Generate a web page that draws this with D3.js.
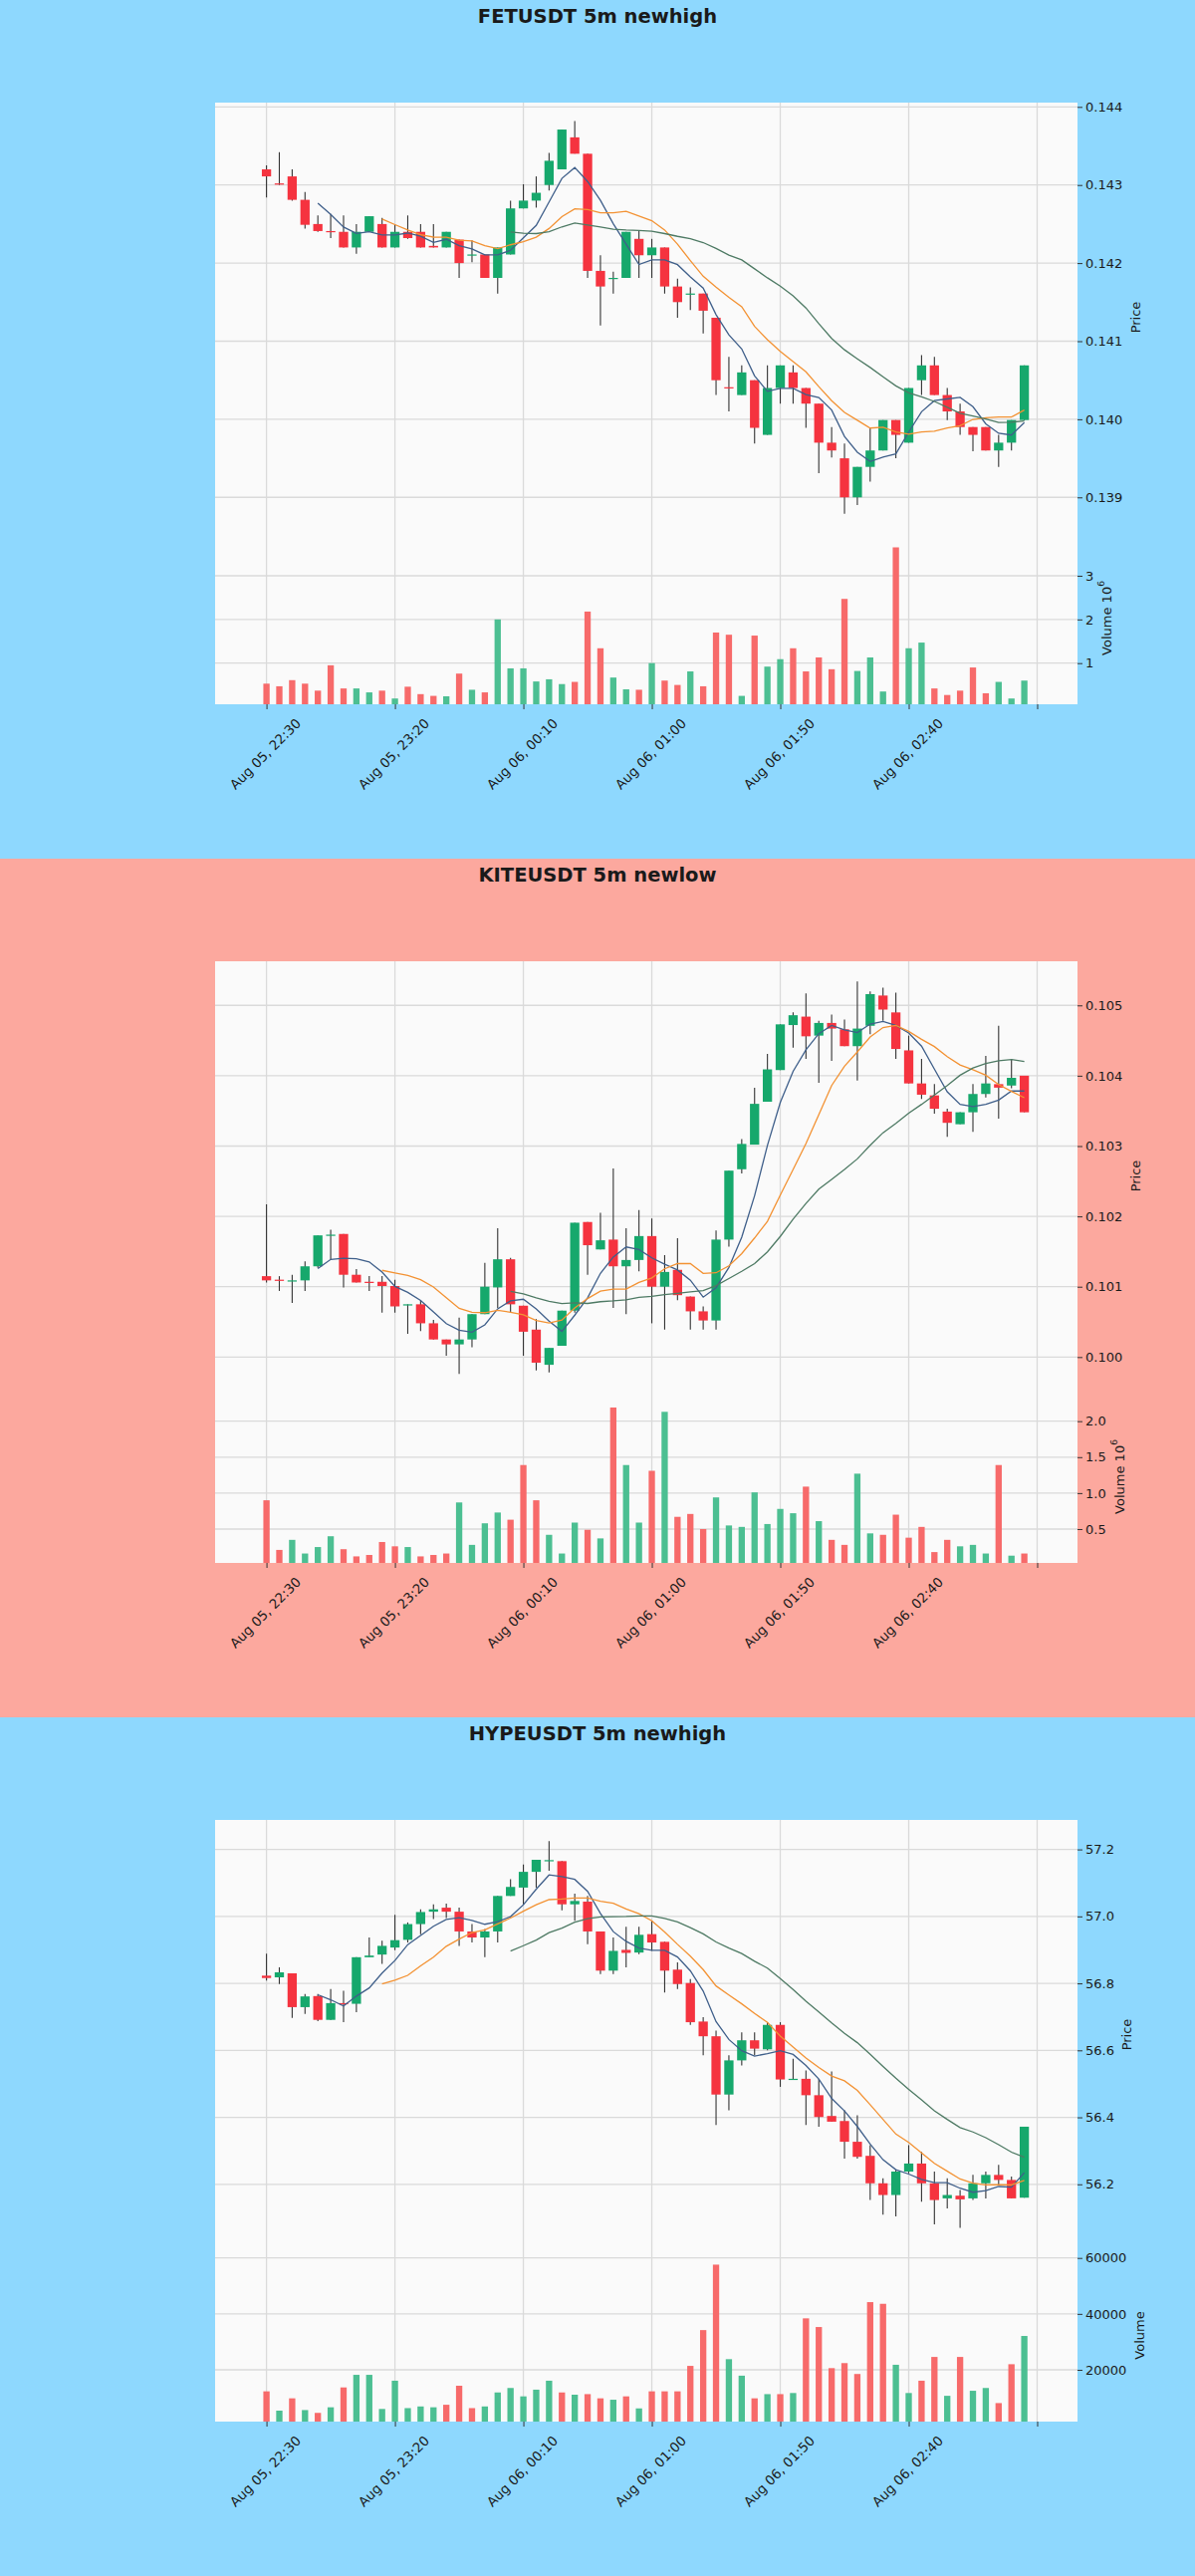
<!DOCTYPE html>
<html>
<head>
<meta charset="utf-8">
<script src="https://cdn.jsdelivr.net/npm/d3@7"></script>
<style>
  body { margin: 0; background: #ffffff; }
  svg text { font-family: 'DejaVu Sans', sans-serif; fill: #1a1a1a; }
</style>
</head>
<body>
<div id="chart"></div>
<script>
// shared time axis: 60 five-minute candles, a label every 10 bars
const tickIndex = [0, 10, 20, 30, 40, 50, 60]
const tickLabels = ['Aug 05, 22:30', 'Aug 05, 23:20', 'Aug 06, 00:10', 'Aug 06, 01:00', 'Aug 06, 01:50', 'Aug 06, 02:40', '']

// FETUSDT
const fetOpen = [
  0.14320, 0.14302, 0.14311, 0.14281, 0.14250, 0.14241, 0.14240, 0.14220, 0.14240, 0.14250,
  0.14220, 0.14240, 0.14240, 0.14222, 0.14220, 0.14230, 0.14210, 0.14211, 0.14181, 0.14211,
  0.14270, 0.14280, 0.14300, 0.14320, 0.14361, 0.14340, 0.14190, 0.14180, 0.14181, 0.14231,
  0.14210, 0.14220, 0.14170, 0.14160, 0.14161, 0.14130, 0.14041, 0.14031, 0.14050, 0.13980,
  0.14040, 0.14060, 0.14040, 0.14020, 0.13970, 0.13950, 0.13900, 0.13939, 0.13960, 0.13999,
  0.13970, 0.14050, 0.14069, 0.14031, 0.14010, 0.13990, 0.13990, 0.13960, 0.13970, 0.13999,
]
const fetHigh = [
  0.14325, 0.14342, 0.14320, 0.14291, 0.14261, 0.14263, 0.14261, 0.14250, 0.14260, 0.14258,
  0.14250, 0.14261, 0.14250, 0.14250, 0.14240, 0.14230, 0.14229, 0.14211, 0.14220, 0.14280,
  0.14301, 0.14311, 0.14341, 0.14371, 0.14382, 0.14340, 0.14210, 0.14189, 0.14240, 0.14241,
  0.14231, 0.14220, 0.14180, 0.14169, 0.14161, 0.14130, 0.14080, 0.14069, 0.14050, 0.14069,
  0.14069, 0.14069, 0.14040, 0.14020, 0.13990, 0.13969, 0.13939, 0.13989, 0.13999, 0.13999,
  0.14040, 0.14082, 0.14080, 0.14040, 0.14020, 0.13990, 0.13990, 0.13980, 0.13999, 0.14069,
]
const fetLow = [
  0.14284, 0.14300, 0.14280, 0.14244, 0.14240, 0.14232, 0.14220, 0.14212, 0.14240, 0.14220,
  0.14220, 0.14231, 0.14220, 0.14220, 0.14220, 0.14181, 0.14201, 0.14181, 0.14161, 0.14211,
  0.14270, 0.14271, 0.14293, 0.14320, 0.14340, 0.14181, 0.14120, 0.14161, 0.14181, 0.14181,
  0.14181, 0.14161, 0.14130, 0.14140, 0.14110, 0.14031, 0.14010, 0.14031, 0.13969, 0.13980,
  0.14020, 0.14020, 0.13989, 0.13931, 0.13951, 0.13879, 0.13890, 0.13920, 0.13960, 0.13950,
  0.13970, 0.14031, 0.14031, 0.13999, 0.13980, 0.13959, 0.13960, 0.13939, 0.13960, 0.13999,
]
const fetClose = [
  0.14311, 0.14301, 0.14281, 0.14249, 0.14241, 0.14240, 0.14220, 0.14240, 0.14260, 0.14220,
  0.14240, 0.14232, 0.14220, 0.14220, 0.14240, 0.14200, 0.14211, 0.14181, 0.14220, 0.14270,
  0.14280, 0.14290, 0.14331, 0.14371, 0.14340, 0.14190, 0.14170, 0.14181, 0.14240, 0.14210,
  0.14220, 0.14170, 0.14150, 0.14161, 0.14139, 0.14050, 0.14040, 0.14060, 0.13989, 0.14040,
  0.14069, 0.14040, 0.14020, 0.13970, 0.13960, 0.13900, 0.13939, 0.13960, 0.13999, 0.13980,
  0.14040, 0.14069, 0.14031, 0.14010, 0.13990, 0.13980, 0.13960, 0.13970, 0.13999, 0.14069,
]
const fetVolume = [
  530000, 470000, 610000, 530000, 370000, 950000, 420000, 420000, 330000, 370000,
  190000, 460000, 290000, 250000, 240000, 760000, 390000, 330000, 2000000, 880000,
  880000, 580000, 630000, 520000, 570000, 2180000, 1340000, 670000, 400000, 390000,
  1000000, 600000, 500000, 810000, 470000, 1700000, 1650000, 250000, 1630000, 920000,
  1090000, 1340000, 810000, 1130000, 860000, 2470000, 820000, 1130000, 350000, 3650000,
  1340000, 1470000, 420000, 270000, 370000, 900000, 310000, 570000, 190000, 600000,
]
const fetPriceTicks = [0.139, 0.140, 0.141, 0.142, 0.143, 0.144]
const fetVolumeTicks = [1000000, 2000000, 3000000]

// KITEUSDT
const kiteOpen = [
  0.10115, 0.10110, 0.10108, 0.10109, 0.10129, 0.10173, 0.10175, 0.10117, 0.10107, 0.10107,
  0.10101, 0.10074, 0.10075, 0.10048, 0.10025, 0.10018, 0.10025, 0.10061, 0.10099, 0.10139,
  0.10073, 0.10039, 0.09989, 0.10016, 0.10066, 0.10192, 0.10153, 0.10167, 0.10129, 0.10138,
  0.10172, 0.10100, 0.10124, 0.10086, 0.10065, 0.10052, 0.10167, 0.10267, 0.10302, 0.10363,
  0.10408, 0.10472, 0.10484, 0.10457, 0.10475, 0.10466, 0.10442, 0.10471, 0.10514, 0.10490,
  0.10436, 0.10389, 0.10372, 0.10349, 0.10331, 0.10348, 0.10374, 0.10388, 0.10386, 0.10400,
]
const kiteHigh = [
  0.10217, 0.10115, 0.10117, 0.10136, 0.10173, 0.10181, 0.10175, 0.10125, 0.10115, 0.10115,
  0.10110, 0.10075, 0.10080, 0.10053, 0.10025, 0.10056, 0.10061, 0.10134, 0.10183, 0.10141,
  0.10073, 0.10054, 0.10013, 0.10066, 0.10191, 0.10192, 0.10205, 0.10268, 0.10183, 0.10209,
  0.10197, 0.10145, 0.10169, 0.10086, 0.10072, 0.10180, 0.10265, 0.10310, 0.10383, 0.10431,
  0.10473, 0.10490, 0.10517, 0.10478, 0.10487, 0.10480, 0.10534, 0.10520, 0.10525, 0.10518,
  0.10457, 0.10424, 0.10388, 0.10353, 0.10348, 0.10388, 0.10428, 0.10471, 0.10424, 0.10400,
]
const kiteLow = [
  0.10106, 0.10094, 0.10077, 0.10094, 0.10127, 0.10139, 0.10099, 0.10106, 0.10094, 0.10063,
  0.10063, 0.10033, 0.10037, 0.10025, 0.10002, 0.09976, 0.10014, 0.10061, 0.10070, 0.10063,
  0.10002, 0.09981, 0.09978, 0.10016, 0.10063, 0.10117, 0.10153, 0.10070, 0.10061, 0.10122,
  0.10048, 0.10039, 0.10081, 0.10039, 0.10039, 0.10039, 0.10157, 0.10261, 0.10302, 0.10363,
  0.10408, 0.10440, 0.10424, 0.10390, 0.10421, 0.10442, 0.10393, 0.10459, 0.10478, 0.10424,
  0.10389, 0.10367, 0.10346, 0.10313, 0.10331, 0.10320, 0.10369, 0.10339, 0.10382, 0.10348,
]
const kiteClose = [
  0.10109, 0.10109, 0.10109, 0.10129, 0.10173, 0.10174, 0.10117, 0.10106, 0.10106, 0.10101,
  0.10072, 0.10075, 0.10048, 0.10025, 0.10018, 0.10025, 0.10061, 0.10100, 0.10139, 0.10075,
  0.10036, 0.09992, 0.10013, 0.10066, 0.10191, 0.10159, 0.10166, 0.10129, 0.10138, 0.10172,
  0.10100, 0.10121, 0.10088, 0.10065, 0.10052, 0.10167, 0.10265, 0.10303, 0.10360, 0.10409,
  0.10473, 0.10486, 0.10456, 0.10475, 0.10467, 0.10442, 0.10467, 0.10516, 0.10494, 0.10438,
  0.10389, 0.10373, 0.10353, 0.10333, 0.10348, 0.10374, 0.10389, 0.10383, 0.10397, 0.10348,
]
const kiteVolume = [
  900000, 210000, 350000, 160000, 250000, 400000, 220000, 120000, 140000, 320000,
  260000, 250000, 120000, 140000, 160000, 870000, 280000, 580000, 730000, 630000,
  1390000, 900000, 420000, 160000, 590000, 490000, 370000, 2190000, 1390000, 590000,
  1310000, 2130000, 670000, 710000, 500000, 940000, 550000, 530000, 1010000, 570000,
  780000, 720000, 1090000, 610000, 350000, 280000, 1270000, 440000, 420000, 700000,
  380000, 530000, 180000, 350000, 260000, 280000, 160000, 1390000, 130000, 160000,
]
const kitePriceTicks = [0.100, 0.101, 0.102, 0.103, 0.104, 0.105]
const kiteVolumeTicks = [500000, 1000000, 1500000, 2000000]

// HYPEUSDT
const hypeOpen = [
  56.823, 56.818, 56.830, 56.729, 56.762, 56.691, 56.741, 56.739, 56.878, 56.886,
  56.907, 56.930, 56.977, 57.014, 57.026, 57.014, 56.955, 56.937, 56.955, 57.061,
  57.086, 57.133, 57.166, 57.165, 57.036, 57.044, 56.955, 56.838, 56.900, 56.892,
  56.947, 56.924, 56.841, 56.801, 56.686, 56.642, 56.468, 56.570, 56.630, 56.603,
  56.676, 56.513, 56.515, 56.466, 56.404, 56.389, 56.327, 56.285, 56.203, 56.168,
  56.238, 56.262, 56.203, 56.158, 56.166, 56.158, 56.203, 56.228, 56.213, 56.160,
]
const hypeHigh = [
  56.889, 56.848, 56.830, 56.768, 56.768, 56.783, 56.778, 56.878, 56.937, 56.927,
  57.005, 56.982, 57.021, 57.036, 57.038, 57.026, 56.977, 56.962, 57.061, 57.111,
  57.155, 57.169, 57.225, 57.165, 57.068, 57.061, 56.955, 56.937, 56.969, 56.969,
  56.987, 56.924, 56.863, 56.813, 56.699, 56.659, 56.585, 56.654, 56.654, 56.684,
  56.684, 56.575, 56.540, 56.515, 56.537, 56.421, 56.406, 56.317, 56.218, 56.243,
  56.317, 56.297, 56.238, 56.218, 56.183, 56.228, 56.238, 56.258, 56.223, 56.372,
]
const hypeLow = [
  56.808, 56.798, 56.697, 56.709, 56.687, 56.691, 56.684, 56.714, 56.878, 56.858,
  56.899, 56.922, 56.947, 56.992, 56.995, 56.912, 56.922, 56.878, 56.922, 57.061,
  57.036, 57.086, 57.136, 57.018, 56.987, 56.917, 56.828, 56.828, 56.848, 56.887,
  56.897, 56.773, 56.783, 56.676, 56.585, 56.377, 56.421, 56.555, 56.585, 56.600,
  56.491, 56.513, 56.377, 56.372, 56.387, 56.277, 56.277, 56.153, 56.109, 56.104,
  56.233, 56.148, 56.080, 56.128, 56.070, 56.153, 56.158, 56.198, 56.158, 56.160,
]
const hypeClose = [
  56.816, 56.833, 56.729, 56.761, 56.691, 56.741, 56.739, 56.878, 56.883, 56.912,
  56.929, 56.977, 57.013, 57.021, 57.014, 56.955, 56.937, 56.955, 57.061, 57.088,
  57.133, 57.169, 57.168, 57.036, 57.046, 56.955, 56.838, 56.897, 56.891, 56.945,
  56.922, 56.838, 56.798, 56.684, 56.642, 56.468, 56.570, 56.630, 56.605, 56.676,
  56.513, 56.515, 56.466, 56.401, 56.387, 56.327, 56.282, 56.203, 56.168, 56.238,
  56.262, 56.203, 56.153, 56.168, 56.155, 56.203, 56.228, 56.213, 56.158, 56.372,
]
const hypeVolume = [
  12300, 5400, 9800, 5600, 4600, 6600, 13700, 18200, 18200, 6000,
  16100, 6300, 6900, 6600, 7500, 14300, 6300, 6900, 11900, 13500,
  10500, 12900, 16100, 11900, 11100, 11300, 9800, 9300, 10500, 6200,
  12300, 12300, 12300, 21400, 34200, 57600, 23800, 17900, 9800, 11300,
  11300, 11700, 38400, 35300, 20600, 22400, 18500, 44200, 43600, 21800,
  11700, 16100, 24600, 10700, 24600, 12500, 13500, 8100, 22000, 32100,
]
const hypePriceTicks = [56.2, 56.4, 56.6, 56.8, 57.0, 57.2]
const hypeVolumeTicks = [20000, 40000, 60000]

const maPeriods = [5, 10, 20]
const maColors = ['#3f5f8a', '#f39233', '#4e7a64']
const upColor = '#16a86c'
const downColor = '#f5333f'
const upVolColor = '#4cbf92'
const downVolColor = '#f76a6a'

const panelHeight = 862
const left = 216
const right = 1082
const priceTop = 103
const priceBottom = 534
const volBottom = 707

function toCandles(open, high, low, close, volume) {
  return open.map((o, i) => ({ i, o, h: high[i], l: low[i], c: close[i], v: volume[i] }))
}

function sma(values, n) {
  return values.map((_, i) => (i < n - 1 ? null : d3.mean(values.slice(i - n + 1, i + 1))))
}

const panels = [
  {
    title: 'FETUSDT 5m newhigh',
    bg: '#8ed8fe',
    candles: toCandles(fetOpen, fetHigh, fetLow, fetClose, fetVolume),
    close: fetClose,
    priceDomain: [0.138557, 0.144055],
    volDomain: [58000, 4003000],
    priceTicks: fetPriceTicks,
    volTicks: fetVolumeTicks,
    priceFormat: (d) => d.toFixed(3),
    volFormat: (d) => String(d / 1e6),
    volExp: '6',
  },
  {
    title: 'KITEUSDT 5m newlow',
    bg: '#fca89e',
    candles: toCandles(kiteOpen, kiteHigh, kiteLow, kiteClose, kiteVolume),
    close: kiteClose,
    priceDomain: [0.099523, 0.105627],
    volDomain: [29000, 2425000],
    priceTicks: kitePriceTicks,
    volTicks: kiteVolumeTicks,
    priceFormat: (d) => d.toFixed(3),
    volFormat: (d) => (d / 1e6).toFixed(1),
    volExp: '6',
  },
  {
    title: 'HYPEUSDT 5m newhigh',
    bg: '#8ed8fe',
    candles: toCandles(hypeOpen, hypeHigh, hypeLow, hypeClose, hypeVolume),
    close: hypeClose,
    priceDomain: [56.006, 57.288],
    volDomain: [1480, 63100],
    priceTicks: hypePriceTicks,
    volTicks: hypeVolumeTicks,
    priceFormat: (d) => d.toFixed(1),
    volFormat: (d) => String(d),
    volExp: null,
  },
]

const svg = d3
  .select('#chart')
  .append('svg')
  .attr('width', 1200)
  .attr('height', panelHeight * 3)

// set the x scale once: bar index -> pixel
const x = d3.scaleLinear().domain([-4, 63.14]).range([left, right])
const step = x(1) - x(0)

function drawPanel(cfg, k) {
  const g = svg.append('g').attr('transform', `translate(0,${k * panelHeight})`)

  g.append('rect').attr('width', 1200).attr('height', panelHeight).attr('fill', cfg.bg)

  g.append('text')
    .attr('x', 600)
    .attr('y', 23)
    .attr('text-anchor', 'middle')
    .style('font-size', '19.5px')
    .style('font-weight', 'bold')
    .text(cfg.title)

  g.append('rect')
    .attr('x', left)
    .attr('y', priceTop)
    .attr('width', right - left)
    .attr('height', volBottom - priceTop)
    .attr('fill', '#fafafa')

  const y = d3.scaleLinear().domain(cfg.priceDomain).range([priceBottom, priceTop])
  const yVol = d3.scaleLinear().domain(cfg.volDomain).range([volBottom, priceBottom])

  // grid
  const grid = g.append('g').attr('stroke', '#dadada').attr('stroke-width', 1.3)
  grid.selectAll('.vgrid')
    .data(tickIndex)
    .join('line')
    .attr('x1', (d) => x(d))
    .attr('x2', (d) => x(d))
    .attr('y1', priceTop)
    .attr('y2', volBottom)
  grid.selectAll('.pgrid')
    .data(cfg.priceTicks)
    .join('line')
    .attr('class', 'pgrid')
    .attr('x1', left)
    .attr('x2', right)
    .attr('y1', (d) => y(d))
    .attr('y2', (d) => y(d))
  grid.selectAll('.vol-grid')
    .data(cfg.volTicks)
    .join('line')
    .attr('class', 'vol-grid')
    .attr('x1', left)
    .attr('x2', right)
    .attr('y1', (d) => yVol(d))
    .attr('y2', (d) => yVol(d))

  // volume bars
  g.append('g')
    .selectAll('rect')
    .data(cfg.candles)
    .join('rect')
    .attr('x', (d) => x(d.i) - step * 0.245)
    .attr('width', step * 0.49)
    .attr('y', (d) => yVol(d.v))
    .attr('height', (d) => volBottom - yVol(d.v))
    .attr('fill', (d) => (d.c >= d.o ? upVolColor : downVolColor))

  // wicks
  g.append('g')
    .selectAll('line')
    .data(cfg.candles)
    .join('line')
    .attr('x1', (d) => x(d.i))
    .attr('x2', (d) => x(d.i))
    .attr('y1', (d) => y(d.h))
    .attr('y2', (d) => y(d.l))
    .attr('stroke', '#333')
    .attr('stroke-width', 1.1)

  // bodies
  g.append('g')
    .selectAll('rect')
    .data(cfg.candles)
    .join('rect')
    .attr('x', (d) => x(d.i) - step * 0.36)
    .attr('width', step * 0.72)
    .attr('y', (d) => y(Math.max(d.o, d.c)))
    .attr('height', (d) => Math.max(1.2, Math.abs(y(d.o) - y(d.c))))
    .attr('fill', (d) => (d.c >= d.o ? upColor : downColor))

  // moving averages
  maPeriods.forEach((n, j) => {
    const ma = sma(cfg.close, n)
    const line = d3
      .line()
      .defined((d) => d !== null)
      .x((d, i) => x(i))
      .y((d) => y(d))
    g.append('path')
      .datum(ma)
      .attr('d', line)
      .attr('fill', 'none')
      .attr('stroke', maColors[j])
      .attr('stroke-width', 1.3)
  })

  // right axes
  const priceAxis = g
    .append('g')
    .attr('transform', `translate(${right},0)`)
    .call(d3.axisRight(y).tickValues(cfg.priceTicks).tickFormat(cfg.priceFormat).tickSize(5).tickPadding(3))
  const volAxis = g
    .append('g')
    .attr('transform', `translate(${right},0)`)
    .call(d3.axisRight(yVol).tickValues(cfg.volTicks).tickFormat(cfg.volFormat).tickSize(5).tickPadding(3))
  g.selectAll('.domain').remove()
  g.selectAll('.tick line').attr('stroke', '#333')
  g.selectAll('.tick text').style('font-size', '13px').attr('fill', '#1a1a1a').style('font-family', "'DejaVu Sans', sans-serif")

  const widest = (axis) => d3.max(axis.selectAll('.tick text').nodes(), (n) => n.getBBox().width)

  const priceLabelX = right + 8 + widest(priceAxis) + 13
  g.append('text')
    .attr('transform', `translate(${priceLabelX},${(priceTop + priceBottom) / 2}) rotate(-90)`)
    .attr('text-anchor', 'middle')
    .attr('dominant-baseline', 'central')
    .style('font-size', '13px')
    .text('Price')

  const volLabelX = right + 8 + widest(volAxis) + 13
  const volLabel = g
    .append('text')
    .attr('transform', `translate(${volLabelX},${(priceBottom + volBottom) / 2}) rotate(-90)`)
    .attr('text-anchor', 'middle')
    .attr('dominant-baseline', 'central')
    .style('font-size', '13px')
  volLabel.append('tspan').text(cfg.volExp ? 'Volume  10' : 'Volume')
  if (cfg.volExp) {
    volLabel.append('tspan').attr('dy', -5).style('font-size', '9px').text(cfg.volExp)
  }

  // bottom axis: ticks, then rotated date labels
  g.append('g')
    .attr('transform', `translate(0,${volBottom})`)
    .call(d3.axisBottom(x).tickValues(tickIndex).tickFormat('').tickSize(5))
    .call((a) => a.select('.domain').remove())
    .selectAll('.tick line')
    .attr('stroke', '#333')

  g.append('g')
    .selectAll('text')
    .data(tickIndex.filter((d, i) => tickLabels[i] !== ''))
    .join('text')
    .attr('transform', (d) => `translate(${x(d) - 1},${volBottom + 50}) rotate(-45)`)
    .attr('text-anchor', 'middle')
    .attr('dominant-baseline', 'central')
    .style('font-size', '13.3px')
    .text((d) => tickLabels[tickIndex.indexOf(d)])
}

panels.forEach((p, k) => drawPanel(p, k))
</script>
</body>
</html>
